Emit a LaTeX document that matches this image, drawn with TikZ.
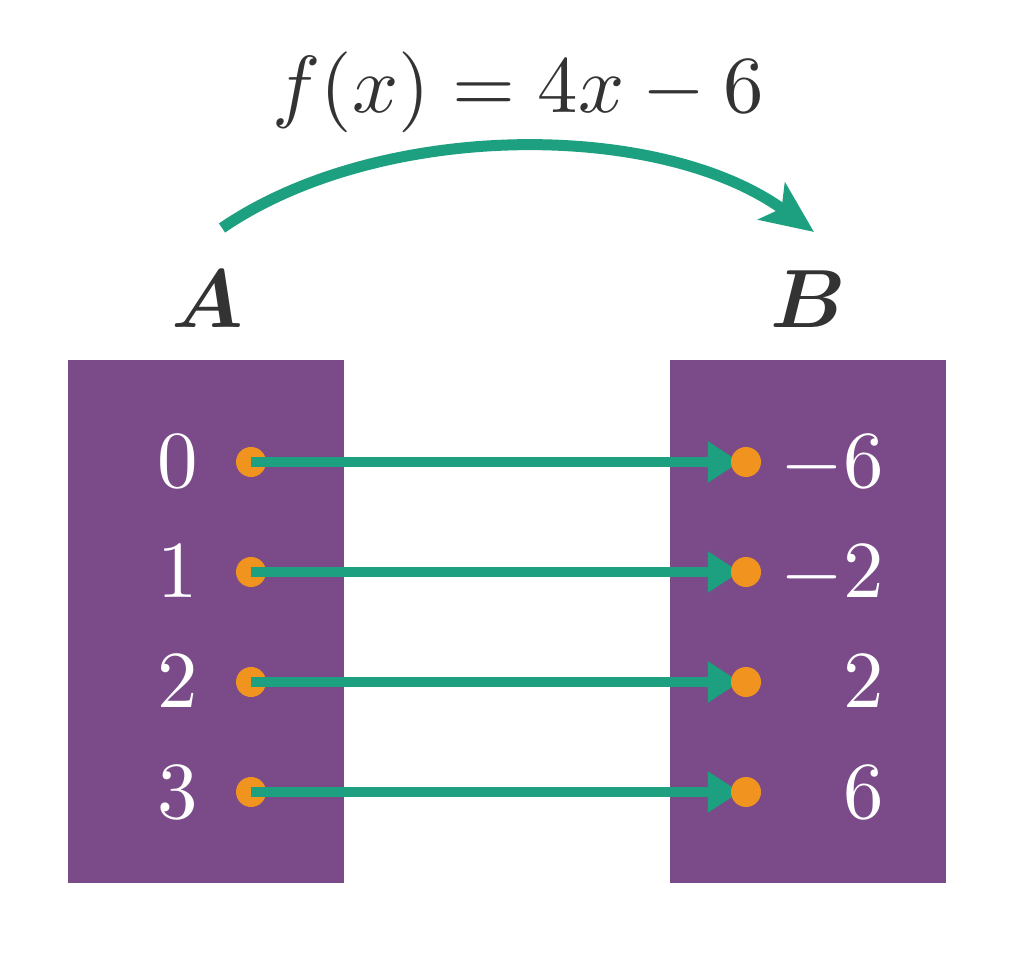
\documentclass[tikz,border=0pt]{standalone}
\usepackage{amsmath}
\usepackage{tikz}
\usetikzlibrary{arrows.meta}

% the 10pt designs, scaled to any size
\DeclareFontShape{OT1}{cmr}{m}{n}{<->cmr10}{}
\DeclareFontShape{OML}{cmm}{m}{it}{<->cmmi10}{}
\DeclareFontShape{OML}{cmm}{b}{it}{<->cmmib10}{}
\DeclareFontShape{OMS}{cmsy}{m}{n}{<->cmsy10}{}
\DeclareFontShape{OMS}{cmsy}{b}{n}{<->cmbsy10}{}

\definecolor{setpurple}{HTML}{7A4A89}
\definecolor{mapgreen}{HTML}{1CA07F}
\definecolor{dotorange}{HTML}{F0931F}
\definecolor{inkgray}{HTML}{333333}

\pgfdeclarelayer{front}
\pgfsetlayers{main,front}

\begin{document}
\begin{tikzpicture}[x=0.01cm,y=-0.01cm,
	elem/.style={circle,fill=dotorange,inner sep=0pt,minimum size=0.3cm},
	num/.style={text=white,inner sep=0pt,font=\fontsize{23}{28}\selectfont},
	setname/.style={text=inkgray,inner sep=0pt,font=\fontsize{23.5}{28}\selectfont},
	maparrow/.style={draw=mapgreen,line width=0.1cm,-{Triangle[length=0.32cm,width=0.39cm]}},
	funarrow/.style={draw=mapgreen,line width=0.11cm,-{Stealth[length=0.52cm,width=0.45cm,inset=0.12cm]}}]
				\useasboundingbox (0,0) rectangle (1013,962);
				% the two sets
				\fill[setpurple] (68,360) rectangle (344,883);
				\fill[setpurple] (670,360) rectangle (946,883);
				\node[setname,anchor=base] (A) at (207,328) {$\boldsymbol{A}$};
				\node[setname,anchor=base] (B) at (808,328) {$\boldsymbol{B}$};
				% the rule
				\node[text=inkgray,inner sep=0pt,anchor=base,font=\fontsize{23}{28}\selectfont] (f) at (518,113) {$f(x) = 4x - 6$};
				\coordinate (fs) at (222,228);
				\coordinate (ft) at (814,232);
				\draw[funarrow] (fs) .. controls (380,120) and (660,120) .. (ft);
				% elements of A
				\node[elem] (a0) at (251,462) {};
				\node[elem] (a1) at (251,572) {};
				\node[elem] (a2) at (251,682) {};
				\node[elem] (a3) at (251,792) {};
				\node[num,anchor=base] (la0) at (178,488) {$0$};
				\node[num,anchor=base] (la1) at (178,598) {$1$};
				\node[num,anchor=base] (la2) at (178,708) {$2$};
				\node[num,anchor=base] (la3) at (178,818) {$3$};
				% elements of B
				\begin{pgfonlayer}{front}
				\node[elem] (b0) at (746,462) {};
				\node[elem] (b1) at (746,572) {};
				\node[elem] (b2) at (746,682) {};
				\node[elem] (b3) at (746,792) {};
				\end{pgfonlayer}
				\node[num,anchor=base east] (lb0) at (885,488) {$-6$};
				\node[num,anchor=base east] (lb1) at (885,598) {$-2$};
				\node[num,anchor=base east] (lb2) at (885,708) {$2$};
				\node[num,anchor=base east] (lb3) at (885,818) {$6$};
				% the mapping
				\draw[maparrow,shorten >=0.06cm] (a0.center) to (b0.center);
				\draw[maparrow,shorten >=0.06cm] (a1.center) to (b1.center);
				\draw[maparrow,shorten >=0.06cm] (a2.center) to (b2.center);
				\draw[maparrow,shorten >=0.06cm] (a3.center) to (b3.center);
			\end{tikzpicture}
\end{document}
